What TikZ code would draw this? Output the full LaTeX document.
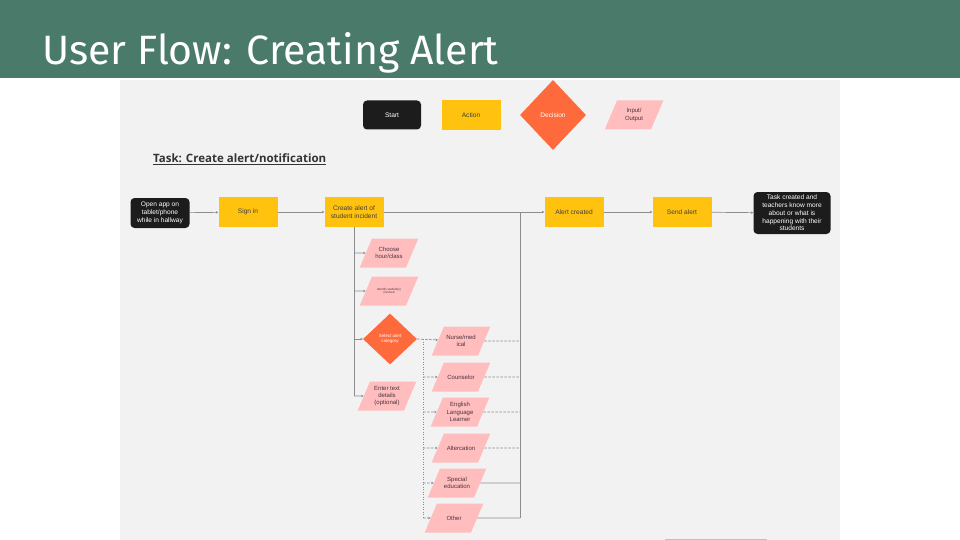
\documentclass[tikz,border=0pt]{standalone}
\usepackage{fontspec}
\setmainfont{Liberation Sans}
\newfontfamily\titlefont{Fira Sans}
\newfontfamily\headfont{Open Sans}
\usetikzlibrary{shapes.geometric,arrows.meta}

\definecolor{headgreen}{HTML}{497A6A}
\definecolor{panelgray}{HTML}{F2F2F2}
\definecolor{actyellow}{HTML}{FFC20E}
\definecolor{decorange}{HTML}{FF6A3D}
\definecolor{iopink}{HTML}{FFBDBD}
\definecolor{termblack}{HTML}{1C1C1C}
\definecolor{linegray}{HTML}{8C8C8C}
\definecolor{iotext}{HTML}{4A3340}

% text block of a fixed size, so the slant of the I/O shapes stays the same
\newcommand{\iolabel}[1]{\parbox[c][29pt][c]{34pt}{\centering #1}}

\tikzset{
  terminal/.style={fill=termblack, rounded corners=4pt, text=white, align=center,
    inner sep=1pt, minimum width=59pt, minimum height=30pt,
    font=\fontsize{6.6}{7.8}\selectfont},
  action/.style={fill=actyellow, minimum width=59pt, minimum height=30pt, inner sep=1pt,
    align=center, text=black!75, font=\fontsize{6.6}{7.8}\selectfont},
  decision/.style={diamond, fill=decorange, text=white, inner sep=0pt, align=center},
  inout/.style={trapezium, trapezium left angle=67, trapezium right angle=113,
    fill=iopink, inner sep=0pt, text=iotext, font=\fontsize{6}{7.2}\selectfont},
  flow/.style={draw=linegray, line width=0.7pt, -{Stealth[length=2.5pt,width=2.5pt]}},
  plainflow/.style={draw=linegray, line width=0.7pt},
  optflow/.style={plainflow, dash pattern=on 2.5pt off 1.5pt},
  busline/.style={draw=linegray, line width=0.8pt, dash pattern=on 1pt off 1.5pt},
}

\begin{document}
\begin{tikzpicture}[x=1pt,y=-1pt]
\useasboundingbox (0,0) rectangle (960,540);
\fill[white] (0,0) rectangle (960,540);
\fill[panelgray] (120,80) rectangle (840,540);
\fill[headgreen] (0,0) rectangle (960,78);
\node[anchor=base west, text=white, inner sep=0pt,
  font=\titlefont\fontsize{41}{43}\selectfont] (title) at (42,65) {User Flow: Creating Alert};

%% legend
\node[terminal, minimum width=58pt, minimum height=29pt] (keystart) at (392,115) {Start};
\node[action] (keyaction) at (471,115) {Action};
\node[decision, minimum width=66pt, minimum height=70pt,
  font=\fontsize{6.6}{7.8}\selectfont] (keydecision) at (553,115) {Decision};
\node[inout] (keyio) at (634,115) {\iolabel{Input/\\Output}};

%% task heading
\node[anchor=base west, inner sep=0pt, text=black!80,
  font=\headfont\bfseries\fontsize{11.5}{13}\selectfont] (task) at (153,163)
  {\underline{Task: Create alert/notification}};

%% main row
\node[terminal] (open) at (160,213) {Open app on\\tablet/phone\\while in hallway};
\node[action] (signin) at (248,212) {Sign in};
\node[action] (create) at (354,212) {Create alert of\\student incident};
\node[action] (created) at (574,212) {Alert created};
\node[action] (send) at (682,212) {Send alert};
\node[terminal, minimum width=77pt, minimum height=42pt] (done) at (792,213)
  {Task created and\\teachers know more\\about or what is\\happening with their\\students};

%% steps under create
\node[inout] (hour) at (389,253) {\iolabel{Choose\\hour/class}};
\node[inout, font=\fontsize{3}{3.6}\selectfont] (ident) at (389,291) {\iolabel{Identify student(s)\\involved}};
\node[decision, minimum width=54pt, minimum height=51pt,
  font=\fontsize{4.5}{5.4}\selectfont] (select) at (390,339) {Select alert\\category};
\node[inout] (details) at (387,396) {\iolabel{Enter text\\details\\(optional)}};

%% categories
\node[inout] (nurse) at (461,341) {\iolabel{Nurse/med\\ical}};
\node[inout] (counsel) at (461,377) {\iolabel{Counselor}};
\node[inout] (ell) at (460,412) {\iolabel{English\\Language\\Learner}};
\node[inout] (alter) at (461,448) {\iolabel{Altercation}};
\node[inout] (special) at (457,483) {\iolabel{Special\\education}};
\node[inout] (other) at (454,518) {\iolabel{Other}};

\coordinate (bus) at (423,339);
\coordinate (merge) at (520,212);

%% connectors
\draw[flow] (open) -- (signin);
\draw[flow] (signin) -- (create);
\draw[flow] (create) -- (created);
\draw[flow] (created) -- (send);
\draw[flow] (send) -- (done);

\draw[plainflow] (create.south) -- (create.south |- details);
\foreach \s in {hour, ident, select, details}
  \draw[flow] (create.south |- \s) -- (\s);

\draw[optflow, -{Stealth[length=2.5pt,width=2.5pt]}] (select.east) -- (nurse);
\draw[busline] (bus) -- (bus |- other);
\foreach \c in {counsel, ell, alter, special, other}
  \draw[optflow, -{Stealth[length=2.5pt,width=2.5pt]}] (bus |- \c) -- (\c);

\draw[plainflow, line width=1pt] (merge) -- (merge |- other);
\foreach \c in {nurse, counsel, ell, alter}
  \draw[optflow] (\c) -- (\c -| merge);
\foreach \c in {special, other}
  \draw[plainflow] (\c) -- (\c -| merge);

\draw[black!25, line width=1pt] (665,539.5) -- (767,539.5);
\end{tikzpicture}
\end{document}
